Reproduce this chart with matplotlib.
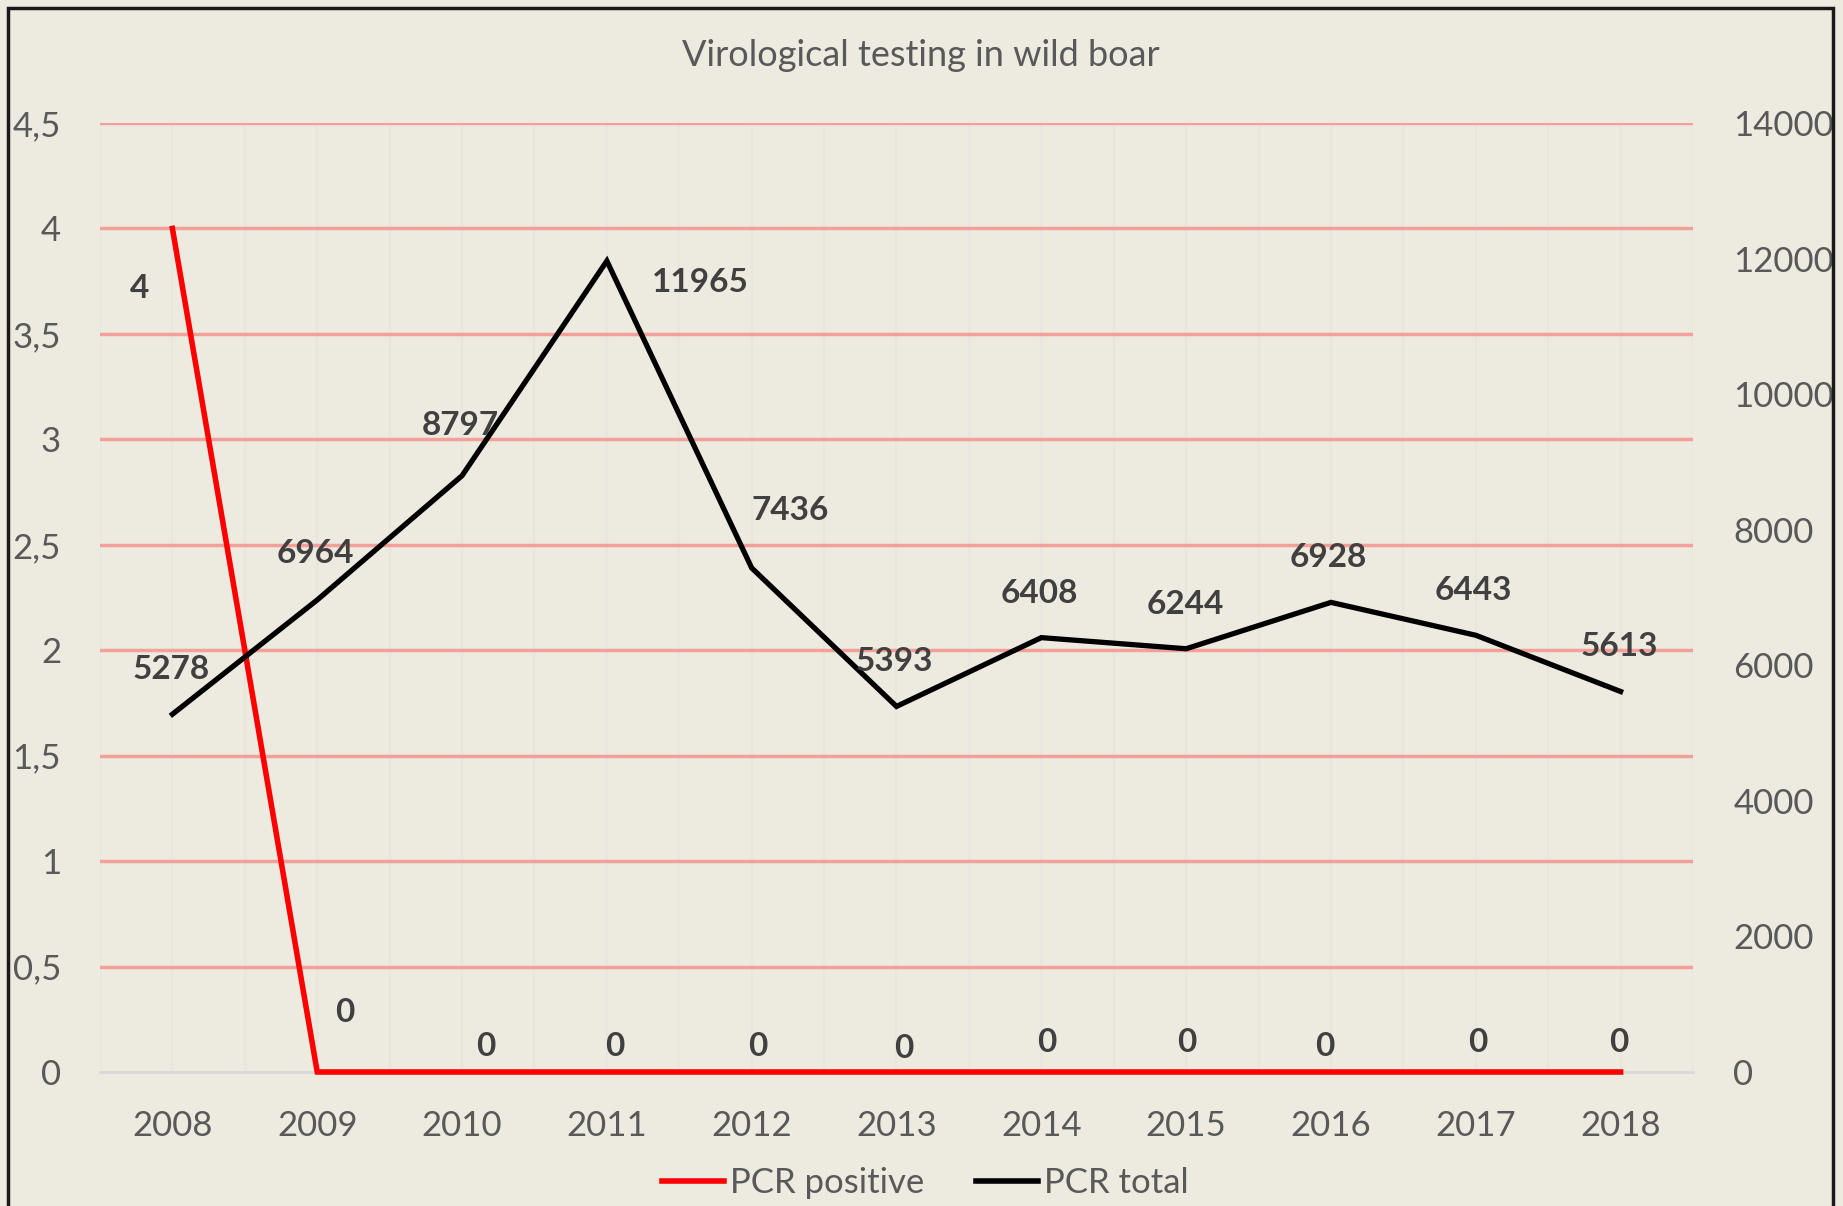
"""Virological testing in wild boar - PCR positive vs PCR total."""

import matplotlib

matplotlib.use("Agg")
import matplotlib.pyplot as plt
from matplotlib.lines import Line2D
from matplotlib.patches import Rectangle
from matplotlib.ticker import FuncFormatter, MultipleLocator

# ===========================
# Data
# ===========================
years = ["2008", "2009", "2010", "2011", "2012", "2013",
         "2014", "2015", "2016", "2017", "2018"]
pcr_positive = [4, 0, 0, 0, 0, 0, 0, 0, 0, 0, 0]
pcr_total = [5278, 6964, 8797, 11965, 7436, 5393,
             6408, 6244, 6928, 6443, 5613]

# label offsets in pixels (moved by hand in the original)
pos_offsets = [(-33, -60), (28, 59), (24, 26), (8, 26), (6, 26), (7, 24),
               (5, 29), (1, 29), (-6, 26), (2, 29), (-2, 29)]
tot_offsets = [(-1, 45), (-2, 46), (-2, 50), (93, -22), (39, 57), (-2, 45),
               (-2, 44), (-1, 44), (-3, 45), (-2, 45), (-1, 45)]

BG = "#EDEBE0"
GRAY = "#595959"
LABEL = "#404040"
FONT = "Lato"

plt.rcParams["font.family"] = [FONT, "DejaVu Sans"]

W, H = 1843, 1206
fig = plt.figure(figsize=(W / 100, H / 100), dpi=100, facecolor=BG)

# plot area in pixels
left, right, top, bottom = 100, 1693, 123, 1072
ax = fig.add_axes([left / W, 1 - bottom / H, (right - left) / W, (bottom - top) / H])
ax.set_facecolor(BG)
ax2 = ax.twinx()
ax2.patch.set_visible(False)

x = list(range(len(years)))

# grid
for v in [i * 0.5 for i in range(23)]:
    ax.axvline(v - 0.5, color="#E8E6DE", lw=1.5, zorder=0)
for g in [i * 0.5 for i in range(1, 10)]:
    ax.axhline(g, color="#F4A09A", lw=2.5, zorder=1)
ax.axhline(0, color="#D9D9D9", lw=2, zorder=1, clip_on=False)

# lines
ax.plot(x, pcr_positive, color="#FF0000", lw=4, solid_joinstyle="miter",
        zorder=3, clip_on=False)
ax2.plot(x, pcr_total, color="#000000", lw=3.8, solid_joinstyle="miter",
         zorder=3, clip_on=False)

# data labels
for xi, v, off in zip(x, pcr_positive, pos_offsets):
    ax.annotate(str(v), (xi, v), xytext=off, textcoords="offset pixels",
                ha="center", va="center", fontsize=24, fontweight="bold",
                color=LABEL, zorder=5)
for xi, v, off in zip(x, pcr_total, tot_offsets):
    ax2.annotate(str(v), (xi, v), xytext=off, textcoords="offset pixels",
                 ha="center", va="center", fontsize=24, fontweight="bold",
                 color=LABEL, zorder=5)

# axes
ax.set_xlim(-0.5, len(years) - 0.5)
ax.set_ylim(0, 4.5)
ax2.set_ylim(0, 14000)
ax.set_xticks(x)
ax.set_xticklabels(years)
ax.yaxis.set_major_locator(MultipleLocator(0.5))
ax.yaxis.set_major_formatter(
    FuncFormatter(lambda v, p: f"{v:g}".replace(".", ","))
)
ax2.yaxis.set_major_locator(MultipleLocator(2000))

for a in (ax, ax2):
    for s in a.spines.values():
        s.set_visible(False)
ax.tick_params(axis="x", length=0, pad=27, labelsize=25, colors=GRAY)
ax.tick_params(axis="y", length=0, pad=28, labelsize=25, colors=GRAY)
ax2.tick_params(axis="y", length=0, pad=29, labelsize=25, colors=GRAY)
for t in ax2.get_yticklabels():
    t.set_ha("left")

# title
fig.text(921 / W, 1 - 56 / H, "Virological testing in wild boar",
         ha="center", va="center", fontsize=26, color=GRAY)

# legend
handles = [
    Line2D([], [], color="#FF0000", lw=4),
    Line2D([], [], color="#000000", lw=4),
]
fig.legend(handles, ["PCR positive", "PCR total"], loc="center",
           bbox_to_anchor=(925 / W, 1 - 1183 / H), ncol=2, frameon=False,
           fontsize=25, handlelength=1.8, handletextpad=0.15,
           columnspacing=1.5, labelcolor=GRAY)

# outer frame
fig.patches.append(Rectangle((8 / W, -0.02), (1833 - 8) / W, 1 - 8 / H + 0.02,
                             transform=fig.transFigure, fill=False,
                             edgecolor="#1A1A1A", lw=2.5))

fig.savefig("out.png", dpi=100, facecolor=BG)
